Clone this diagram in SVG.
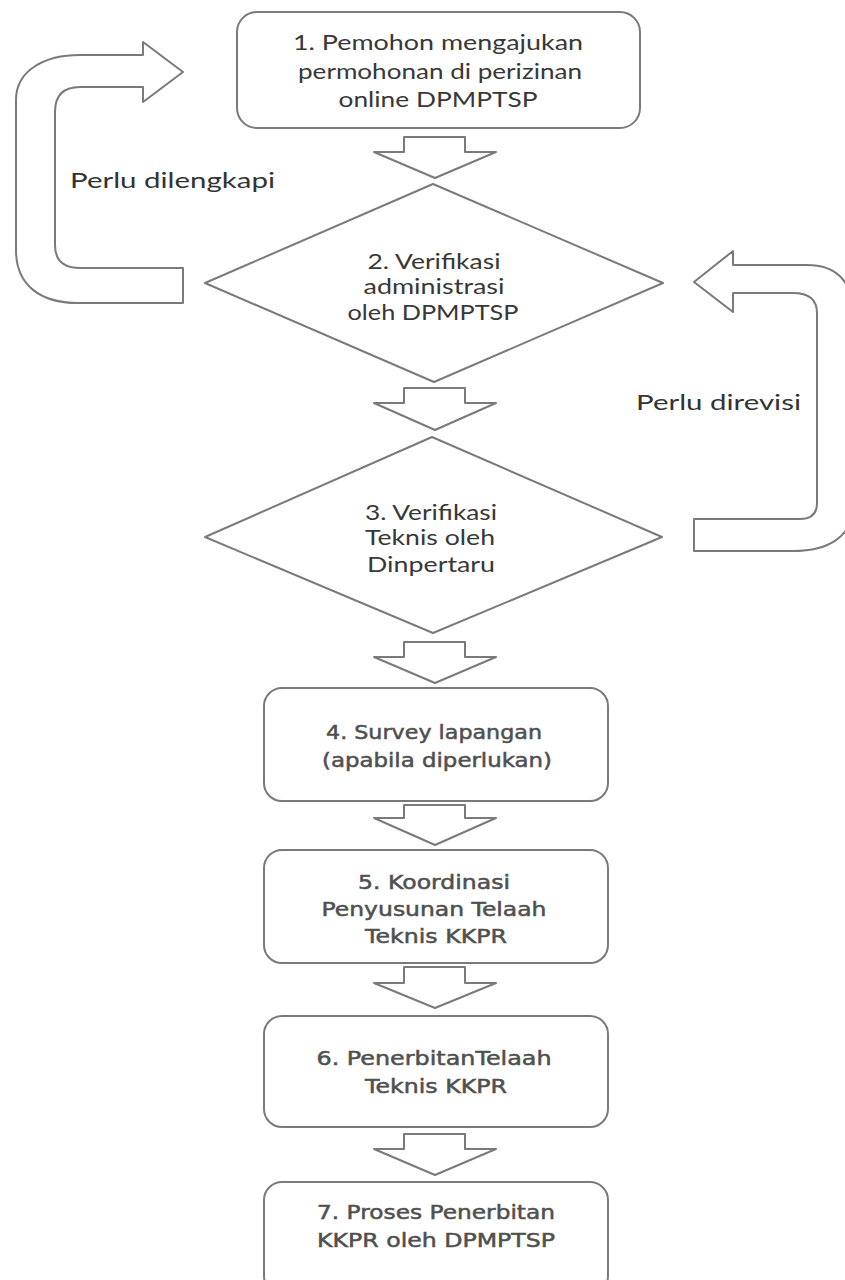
<svg xmlns="http://www.w3.org/2000/svg" width="845" height="1280" viewBox="0 0 845 1280">
<style>
.shape{fill:#ffffff;stroke:#7a7a7a;stroke-width:2;stroke-linejoin:round}
.t1{font-family:Lato,"Open Sans","Liberation Sans",sans-serif;font-size:22px;fill:#383838;text-anchor:middle}
.t2{font-family:"DejaVu Sans","Liberation Sans",sans-serif;font-size:19px;fill:#505050;stroke:#505050;stroke-width:0.5;text-anchor:middle}
.lbl{font-family:Lato,"Open Sans","Liberation Sans",sans-serif;font-size:22px;fill:#333333}
</style>
<rect width="845" height="1280" fill="#ffffff"/>

<g id="connectors">
  <path class="shape" d="M183,72 L143,102 L143,87 L80,87 Q55,87 55,112 L55,245 Q55,268 80,268 L183,268 L183,303 L78,303 C40,303 16,285 16,250 L16,100 C16,70 45,55 80,55 L143,55 L143,42 Z"/>
  <path class="shape" d="M694,282 L733,251 L733,265 L807,265 C835,265 852,280 852,310 L852,510 C852,535 830,551 793,551 L694,551 L694,519 L800,519 Q817,519 817,503 L817,313 Q817,293 793,293 L733,293 L733,312 Z"/>
  <polygon class="shape" points="404,137 465,137 465,152 496,152 435,178 374,152 404,152"/>
  <polygon class="shape" points="404,388 465,388 465,403 496,403 435,430 374,403 404,403"/>
  <polygon class="shape" points="404,642 465,642 465,657 496,657 435,683 374,657 404,657"/>
  <polygon class="shape" points="404,805 465,805 465,818 496,818 435,845 374,818 404,818"/>
  <polygon class="shape" points="404,967 465,967 465,983 496,983 435,1008 374,983 404,983"/>
  <polygon class="shape" points="404,1134 465,1134 465,1149 496,1149 435,1175 374,1149 404,1149"/>
  <text class="lbl" x="70" y="188" textLength="205" lengthAdjust="spacingAndGlyphs">Perlu dilengkapi</text>
  <text class="lbl" x="636" y="410" textLength="165" lengthAdjust="spacingAndGlyphs">Perlu direvisi</text>
</g>

<g id="node1">
  <rect class="shape" x="237" y="12" width="403" height="116" rx="20" ry="20"/>
  <text class="t1" x="438" y="50" textLength="290" lengthAdjust="spacingAndGlyphs">1. Pemohon mengajukan</text>
  <text class="t1" x="440" y="79" textLength="284" lengthAdjust="spacingAndGlyphs">permohonan di perizinan</text>
  <text class="t1" x="438" y="107" textLength="199" lengthAdjust="spacingAndGlyphs">online DPMPTSP</text>
</g>

<g id="node2">
  <polygon class="shape" points="433,184 663,283 434,382 205,283"/>
  <text class="t1" x="434" y="269" textLength="133" lengthAdjust="spacingAndGlyphs">2. Verifikasi</text>
  <text class="t1" x="434" y="294" textLength="141" lengthAdjust="spacingAndGlyphs">administrasi</text>
  <text class="t1" x="433" y="320" textLength="171" lengthAdjust="spacingAndGlyphs">oleh DPMPTSP</text>
</g>

<g id="node3">
  <polygon class="shape" points="432,437 662,537 433,633 205,537"/>
  <text class="t1" x="431" y="520" textLength="132" lengthAdjust="spacingAndGlyphs">3. Verifikasi</text>
  <text class="t1" x="430" y="545" textLength="130" lengthAdjust="spacingAndGlyphs">Teknis oleh</text>
  <text class="t1" x="431" y="572" textLength="128" lengthAdjust="spacingAndGlyphs">Dinpertaru</text>
</g>

<g id="node4">
  <rect class="shape" x="264" y="688" width="344" height="113" rx="18" ry="18"/>
  <text class="t2" x="434" y="739" textLength="216" lengthAdjust="spacingAndGlyphs">4. Survey lapangan</text>
  <text class="t2" x="437" y="767" textLength="230" lengthAdjust="spacingAndGlyphs">(apabila diperlukan)</text>
</g>

<g id="node5">
  <rect class="shape" x="264" y="850" width="344" height="113" rx="18" ry="18"/>
  <text class="t2" x="434" y="889" textLength="152" lengthAdjust="spacingAndGlyphs">5. Koordinasi</text>
  <text class="t2" x="434" y="916" textLength="225" lengthAdjust="spacingAndGlyphs">Penyusunan Telaah</text>
  <text class="t2" x="436" y="943" textLength="142" lengthAdjust="spacingAndGlyphs">Teknis KKPR</text>
</g>

<g id="node6">
  <rect class="shape" x="264" y="1016" width="344" height="111" rx="18" ry="18"/>
  <text class="t2" x="434" y="1065" textLength="235" lengthAdjust="spacingAndGlyphs">6. PenerbitanTelaah</text>
  <text class="t2" x="436" y="1093" textLength="142" lengthAdjust="spacingAndGlyphs">Teknis KKPR</text>
</g>

<g id="node7">
  <rect class="shape" x="264" y="1182" width="344" height="112" rx="18" ry="18"/>
  <text class="t2" x="436" y="1219" textLength="238" lengthAdjust="spacingAndGlyphs">7. Proses Penerbitan</text>
  <text class="t2" x="436" y="1247" textLength="238" lengthAdjust="spacingAndGlyphs">KKPR oleh DPMPTSP</text>
</g>
</svg>
